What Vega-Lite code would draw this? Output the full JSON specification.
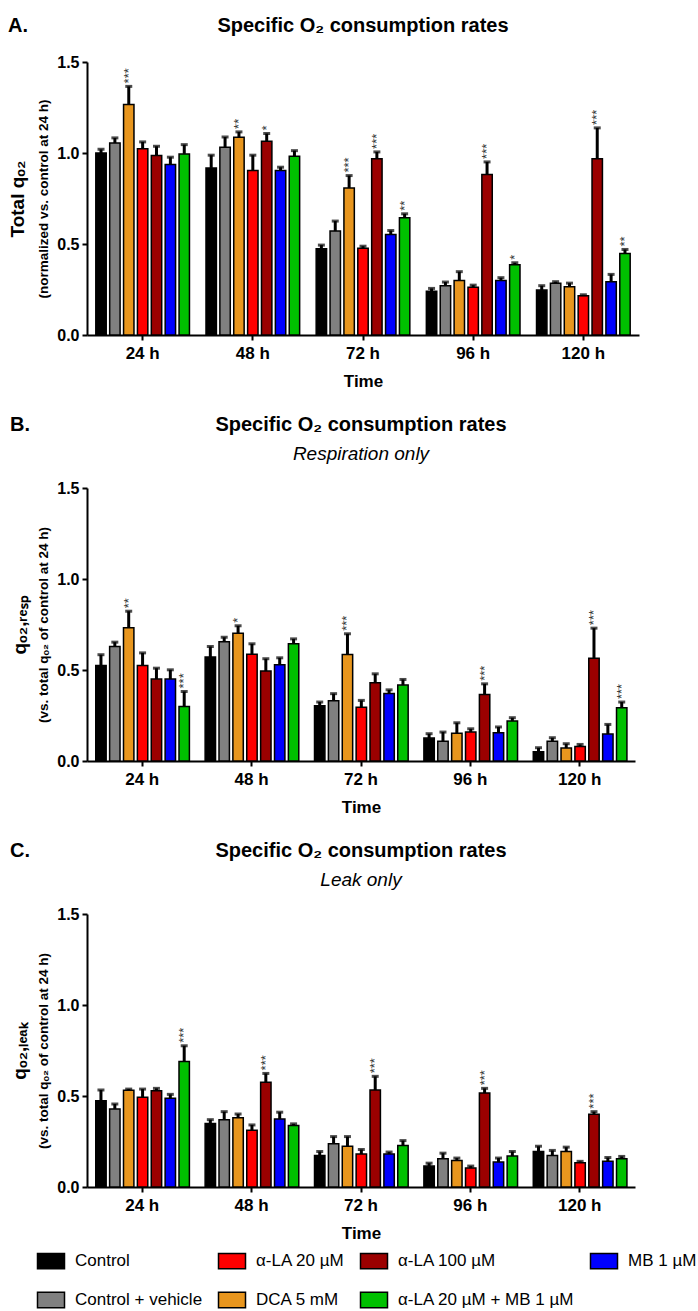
{
  "$schema": "https://vega.github.io/schema/vega-lite/v6.json",
  "padding": {"left": 8, "top": 16, "right": 5, "bottom": 5},
  "background": "white",
  "config": {
    "font": "Liberation Sans",
    "view": {"stroke": null},
    "axis": {"grid": false, "domainColor": "black", "domainWidth": 2, "tickColor": "black", "tickWidth": 2, "tickSize": 5, "labelColor": "black", "labelFont": "Liberation Sans", "labelFontWeight": "bold", "labelFontSize": 16, "titleColor": "black", "titleFont": "Liberation Sans", "titleFontWeight": "bold"},
    "title": {"font": "Liberation Sans", "fontWeight": "bold", "color": "black", "fontSize": 20, "subtitleFont": "Liberation Sans", "subtitleFontStyle": "italic", "subtitleFontSize": 19, "subtitleColor": "black", "subtitlePadding": 10},
    "concat": {"spacing": 26}
  },
  "data": {"values": [
    {"panel":"A","time":"24 h","treatment":"Control","value":1.0,"err":1.02,"sig":""},
    {"panel":"A","time":"24 h","treatment":"Control + vehicle","value":1.055,"err":1.083,"sig":""},
    {"panel":"A","time":"24 h","treatment":"DCA 5 mM","value":1.266,"err":1.366,"sig":"***"},
    {"panel":"A","time":"24 h","treatment":"α-LA 20 µM","value":1.024,"err":1.061,"sig":""},
    {"panel":"A","time":"24 h","treatment":"α-LA 100 µM","value":0.986,"err":1.037,"sig":""},
    {"panel":"A","time":"24 h","treatment":"MB 1 µM","value":0.937,"err":0.977,"sig":""},
    {"panel":"A","time":"24 h","treatment":"α-LA 20 µM + MB 1 µM","value":0.995,"err":1.046,"sig":""},
    {"panel":"A","time":"48 h","treatment":"Control","value":0.918,"err":0.988,"sig":""},
    {"panel":"A","time":"48 h","treatment":"Control + vehicle","value":1.032,"err":1.088,"sig":""},
    {"panel":"A","time":"48 h","treatment":"DCA 5 mM","value":1.087,"err":1.116,"sig":"**"},
    {"panel":"A","time":"48 h","treatment":"α-LA 20 µM","value":0.904,"err":0.988,"sig":""},
    {"panel":"A","time":"48 h","treatment":"α-LA 100 µM","value":1.065,"err":1.107,"sig":"*"},
    {"panel":"A","time":"48 h","treatment":"MB 1 µM","value":0.904,"err":0.922,"sig":""},
    {"panel":"A","time":"48 h","treatment":"α-LA 20 µM + MB 1 µM","value":0.982,"err":1.013,"sig":""},
    {"panel":"A","time":"72 h","treatment":"Control","value":0.474,"err":0.494,"sig":""},
    {"panel":"A","time":"72 h","treatment":"Control + vehicle","value":0.571,"err":0.626,"sig":""},
    {"panel":"A","time":"72 h","treatment":"DCA 5 mM","value":0.808,"err":0.876,"sig":"***"},
    {"panel":"A","time":"72 h","treatment":"α-LA 20 µM","value":0.477,"err":0.488,"sig":""},
    {"panel":"A","time":"72 h","treatment":"α-LA 100 µM","value":0.969,"err":1.006,"sig":"***"},
    {"panel":"A","time":"72 h","treatment":"MB 1 µM","value":0.552,"err":0.574,"sig":""},
    {"panel":"A","time":"72 h","treatment":"α-LA 20 µM + MB 1 µM","value":0.644,"err":0.666,"sig":"**"},
    {"panel":"A","time":"96 h","treatment":"Control","value":0.241,"err":0.256,"sig":""},
    {"panel":"A","time":"96 h","treatment":"Control + vehicle","value":0.271,"err":0.291,"sig":""},
    {"panel":"A","time":"96 h","treatment":"DCA 5 mM","value":0.3,"err":0.348,"sig":""},
    {"panel":"A","time":"96 h","treatment":"α-LA 20 µM","value":0.263,"err":0.274,"sig":""},
    {"panel":"A","time":"96 h","treatment":"α-LA 100 µM","value":0.882,"err":0.951,"sig":"***"},
    {"panel":"A","time":"96 h","treatment":"MB 1 µM","value":0.3,"err":0.315,"sig":""},
    {"panel":"A","time":"96 h","treatment":"α-LA 20 µM + MB 1 µM","value":0.386,"err":0.397,"sig":"*"},
    {"panel":"A","time":"120 h","treatment":"Control","value":0.247,"err":0.271,"sig":""},
    {"panel":"A","time":"120 h","treatment":"Control + vehicle","value":0.285,"err":0.293,"sig":""},
    {"panel":"A","time":"120 h","treatment":"DCA 5 mM","value":0.265,"err":0.285,"sig":""},
    {"panel":"A","time":"120 h","treatment":"α-LA 20 µM","value":0.216,"err":0.221,"sig":""},
    {"panel":"A","time":"120 h","treatment":"α-LA 100 µM","value":0.969,"err":1.138,"sig":"***"},
    {"panel":"A","time":"120 h","treatment":"MB 1 µM","value":0.293,"err":0.333,"sig":""},
    {"panel":"A","time":"120 h","treatment":"α-LA 20 µM + MB 1 µM","value":0.448,"err":0.47,"sig":"**"},
    {"panel":"B","time":"24 h","treatment":"Control","value":0.525,"err":0.584,"sig":""},
    {"panel":"B","time":"24 h","treatment":"Control + vehicle","value":0.629,"err":0.653,"sig":""},
    {"panel":"B","time":"24 h","treatment":"DCA 5 mM","value":0.732,"err":0.823,"sig":"**"},
    {"panel":"B","time":"24 h","treatment":"α-LA 20 µM","value":0.525,"err":0.594,"sig":""},
    {"panel":"B","time":"24 h","treatment":"α-LA 100 µM","value":0.45,"err":0.51,"sig":""},
    {"panel":"B","time":"24 h","treatment":"MB 1 µM","value":0.45,"err":0.501,"sig":""},
    {"panel":"B","time":"24 h","treatment":"α-LA 20 µM + MB 1 µM","value":0.3,"err":0.382,"sig":"***"},
    {"panel":"B","time":"48 h","treatment":"Control","value":0.571,"err":0.629,"sig":""},
    {"panel":"B","time":"48 h","treatment":"Control + vehicle","value":0.655,"err":0.68,"sig":""},
    {"panel":"B","time":"48 h","treatment":"DCA 5 mM","value":0.702,"err":0.743,"sig":"*"},
    {"panel":"B","time":"48 h","treatment":"α-LA 20 µM","value":0.587,"err":0.644,"sig":""},
    {"panel":"B","time":"48 h","treatment":"α-LA 100 µM","value":0.494,"err":0.562,"sig":""},
    {"panel":"B","time":"48 h","treatment":"MB 1 µM","value":0.529,"err":0.567,"sig":""},
    {"panel":"B","time":"48 h","treatment":"α-LA 20 µM + MB 1 µM","value":0.644,"err":0.671,"sig":""},
    {"panel":"B","time":"72 h","treatment":"Control","value":0.304,"err":0.324,"sig":""},
    {"panel":"B","time":"72 h","treatment":"Control + vehicle","value":0.331,"err":0.37,"sig":""},
    {"panel":"B","time":"72 h","treatment":"DCA 5 mM","value":0.585,"err":0.699,"sig":"***"},
    {"panel":"B","time":"72 h","treatment":"α-LA 20 µM","value":0.296,"err":0.333,"sig":""},
    {"panel":"B","time":"72 h","treatment":"α-LA 100 µM","value":0.43,"err":0.479,"sig":""},
    {"panel":"B","time":"72 h","treatment":"MB 1 µM","value":0.371,"err":0.391,"sig":""},
    {"panel":"B","time":"72 h","treatment":"α-LA 20 µM + MB 1 µM","value":0.417,"err":0.448,"sig":""},
    {"panel":"B","time":"96 h","treatment":"Control","value":0.126,"err":0.15,"sig":""},
    {"panel":"B","time":"96 h","treatment":"Control + vehicle","value":0.108,"err":0.159,"sig":""},
    {"panel":"B","time":"96 h","treatment":"DCA 5 mM","value":0.152,"err":0.21,"sig":""},
    {"panel":"B","time":"96 h","treatment":"α-LA 20 µM","value":0.159,"err":0.177,"sig":""},
    {"panel":"B","time":"96 h","treatment":"α-LA 100 µM","value":0.366,"err":0.424,"sig":"***"},
    {"panel":"B","time":"96 h","treatment":"MB 1 µM","value":0.155,"err":0.187,"sig":""},
    {"panel":"B","time":"96 h","treatment":"α-LA 20 µM + MB 1 µM","value":0.22,"err":0.238,"sig":""},
    {"panel":"B","time":"120 h","treatment":"Control","value":0.051,"err":0.073,"sig":""},
    {"panel":"B","time":"120 h","treatment":"Control + vehicle","value":0.108,"err":0.128,"sig":""},
    {"panel":"B","time":"120 h","treatment":"DCA 5 mM","value":0.071,"err":0.095,"sig":""},
    {"panel":"B","time":"120 h","treatment":"α-LA 20 µM","value":0.08,"err":0.091,"sig":""},
    {"panel":"B","time":"120 h","treatment":"α-LA 100 µM","value":0.565,"err":0.73,"sig":"***"},
    {"panel":"B","time":"120 h","treatment":"MB 1 µM","value":0.148,"err":0.201,"sig":""},
    {"panel":"B","time":"120 h","treatment":"α-LA 20 µM + MB 1 µM","value":0.293,"err":0.324,"sig":"***"},
    {"panel":"C","time":"24 h","treatment":"Control","value":0.474,"err":0.533,"sig":""},
    {"panel":"C","time":"24 h","treatment":"Control + vehicle","value":0.429,"err":0.456,"sig":""},
    {"panel":"C","time":"24 h","treatment":"DCA 5 mM","value":0.531,"err":0.538,"sig":""},
    {"panel":"C","time":"24 h","treatment":"α-LA 20 µM","value":0.493,"err":0.538,"sig":""},
    {"panel":"C","time":"24 h","treatment":"α-LA 100 µM","value":0.529,"err":0.542,"sig":""},
    {"panel":"C","time":"24 h","treatment":"MB 1 µM","value":0.487,"err":0.509,"sig":""},
    {"panel":"C","time":"24 h","treatment":"α-LA 20 µM + MB 1 µM","value":0.69,"err":0.776,"sig":"***"},
    {"panel":"C","time":"48 h","treatment":"Control","value":0.349,"err":0.37,"sig":""},
    {"panel":"C","time":"48 h","treatment":"Control + vehicle","value":0.37,"err":0.414,"sig":""},
    {"panel":"C","time":"48 h","treatment":"DCA 5 mM","value":0.381,"err":0.401,"sig":""},
    {"panel":"C","time":"48 h","treatment":"α-LA 20 µM","value":0.312,"err":0.341,"sig":""},
    {"panel":"C","time":"48 h","treatment":"α-LA 100 µM","value":0.575,"err":0.624,"sig":"***"},
    {"panel":"C","time":"48 h","treatment":"MB 1 µM","value":0.374,"err":0.411,"sig":""},
    {"panel":"C","time":"48 h","treatment":"α-LA 20 µM + MB 1 µM","value":0.338,"err":0.347,"sig":""},
    {"panel":"C","time":"72 h","treatment":"Control","value":0.173,"err":0.195,"sig":""},
    {"panel":"C","time":"72 h","treatment":"Control + vehicle","value":0.237,"err":0.277,"sig":""},
    {"panel":"C","time":"72 h","treatment":"DCA 5 mM","value":0.224,"err":0.277,"sig":""},
    {"panel":"C","time":"72 h","treatment":"α-LA 20 µM","value":0.181,"err":0.206,"sig":""},
    {"panel":"C","time":"72 h","treatment":"α-LA 100 µM","value":0.533,"err":0.608,"sig":"***"},
    {"panel":"C","time":"72 h","treatment":"MB 1 µM","value":0.181,"err":0.192,"sig":""},
    {"panel":"C","time":"72 h","treatment":"α-LA 20 µM + MB 1 µM","value":0.228,"err":0.255,"sig":""},
    {"panel":"C","time":"96 h","treatment":"Control","value":0.115,"err":0.131,"sig":""},
    {"panel":"C","time":"96 h","treatment":"Control + vehicle","value":0.155,"err":0.186,"sig":""},
    {"panel":"C","time":"96 h","treatment":"DCA 5 mM","value":0.146,"err":0.159,"sig":""},
    {"panel":"C","time":"96 h","treatment":"α-LA 20 µM","value":0.104,"err":0.115,"sig":""},
    {"panel":"C","time":"96 h","treatment":"α-LA 100 µM","value":0.516,"err":0.542,"sig":"***"},
    {"panel":"C","time":"96 h","treatment":"MB 1 µM","value":0.137,"err":0.159,"sig":""},
    {"panel":"C","time":"96 h","treatment":"α-LA 20 µM + MB 1 µM","value":0.17,"err":0.195,"sig":""},
    {"panel":"C","time":"120 h","treatment":"Control","value":0.195,"err":0.224,"sig":""},
    {"panel":"C","time":"120 h","treatment":"Control + vehicle","value":0.173,"err":0.201,"sig":""},
    {"panel":"C","time":"120 h","treatment":"DCA 5 mM","value":0.195,"err":0.219,"sig":""},
    {"panel":"C","time":"120 h","treatment":"α-LA 20 µM","value":0.133,"err":0.141,"sig":""},
    {"panel":"C","time":"120 h","treatment":"α-LA 100 µM","value":0.4,"err":0.414,"sig":"***"},
    {"panel":"C","time":"120 h","treatment":"MB 1 µM","value":0.142,"err":0.162,"sig":""},
    {"panel":"C","time":"120 h","treatment":"α-LA 20 µM + MB 1 µM","value":0.155,"err":0.168,"sig":""}
  ]},
  "vconcat": [
    {
      "title": {"text": "A.", "anchor": "start", "frame": "bounds", "fontSize": 20, "offset": -20},
      "vconcat": [{
        "title": {"text": "Specific O₂ consumption rates", "anchor": "middle", "frame": "group", "offset": 18},
        "width": 552, "height": 273,
        "transform": [{"filter": "datum.panel === 'A'"}],
        "encoding": {
          "x": {"field": "time", "type": "nominal", "sort": ["24 h", "48 h", "72 h", "96 h", "120 h"], "scale": {"paddingInner": 0.15, "paddingOuter": 0.08}, "axis": {"title": "Time", "labelAngle": 0, "labelFontSize": 17, "titleFontSize": 17, "labelPadding": 5, "titlePadding": 12}},
          "xOffset": {"field": "treatment", "type": "nominal", "sort": ["Control", "Control + vehicle", "DCA 5 mM", "α-LA 20 µM", "α-LA 100 µM", "MB 1 µM", "α-LA 20 µM + MB 1 µM"], "scale": {"paddingInner": 0.25, "paddingOuter": 0}}
        },
        "layer": [
          {"mark": {"type": "bar", "stroke": "black", "strokeWidth": 1.5},
           "encoding": {
             "y": {"field": "value", "type": "quantitative", "scale": {"domain": [0, 1.5], "nice": false}, "axis": {"title": "(normalized vs. control at 24 h)", "titleFontSize": 13.5, "values": [0, 0.5, 1, 1.5], "format": ".1f", "titlePadding": 6, "labelPadding": 3}},
             "color": {"field": "treatment", "type": "nominal", "scale": {"domain": ["Control", "α-LA 20 µM", "α-LA 100 µM", "MB 1 µM", "Control + vehicle", "DCA 5 mM", "α-LA 20 µM + MB 1 µM"], "range": ["#000000", "#ff0000", "#9b0000", "#0000ff", "#808080", "#e8961e", "#00c000"]},
               "legend": {"orient": "none", "legendX": -46, "legendY": 1189, "direction": "horizontal", "title": null, "columns": 4, "gridAlign": "each", "symbolType": "M-1.5,-0.85L1.5,-0.85L1.5,0.85L-1.5,0.85Z", "symbolSize": 324, "symbolStrokeColor": "black", "symbolStrokeWidth": 1.5, "symbolOpacity": 1, "labelFontSize": 17, "labelFont": "Liberation Sans", "labelColor": "black", "labelLimit": 300, "labelOffset": 14, "columnPadding": 12, "rowPadding": 17, "padding": 0}}
           }},
          {"mark": {"type": "rule", "color": "black", "strokeWidth": 3},
           "encoding": {
             "y": {"field": "value", "type": "quantitative", "scale": {"domain": [0, 1.5], "nice": false}, "axis": {"orient": "left", "title": "Total qₒ₂", "titleFontSize": 19, "labels": false, "ticks": false, "domain": false, "titlePadding": 60}},
             "y2": {"field": "err"}
           }},
          {"mark": {"type": "tick", "color": "black", "thickness": 3, "size": 7},
           "encoding": {"y": {"field": "err", "type": "quantitative", "scale": {"domain": [0, 1.5], "nice": false}, "axis": null}}},
          {"mark": {"type": "text", "angle": 270, "align": "left", "baseline": "middle", "dx": 3, "fontSize": 13, "color": "#333333"},
           "encoding": {"y": {"field": "err", "type": "quantitative", "scale": {"domain": [0, 1.5], "nice": false}, "axis": null}, "text": {"field": "sig"}}}
        ],
        "resolve": {"axis": {"y": "independent"}}
      }]
    },
    {
      "title": {"text": "B.", "anchor": "start", "frame": "bounds", "fontSize": 20, "offset": -20},
      "vconcat": [{
        "title": {"text": "Specific O₂ consumption rates", "subtitle": "Respiration only", "anchor": "middle", "frame": "group", "offset": 16},
        "width": 548, "height": 273,
        "transform": [{"filter": "datum.panel === 'B'"}],
        "encoding": {
          "x": {"field": "time", "type": "nominal", "sort": ["24 h", "48 h", "72 h", "96 h", "120 h"], "scale": {"paddingInner": 0.15, "paddingOuter": 0.08}, "axis": {"title": "Time", "labelAngle": 0, "labelFontSize": 17, "titleFontSize": 17, "labelPadding": 5, "titlePadding": 12}},
          "xOffset": {"field": "treatment", "type": "nominal", "sort": ["Control", "Control + vehicle", "DCA 5 mM", "α-LA 20 µM", "α-LA 100 µM", "MB 1 µM", "α-LA 20 µM + MB 1 µM"], "scale": {"paddingInner": 0.25, "paddingOuter": 0}}
        },
        "layer": [
          {"mark": {"type": "bar", "stroke": "black", "strokeWidth": 1.5},
           "encoding": {
             "y": {"field": "value", "type": "quantitative", "scale": {"domain": [0, 1.5], "nice": false}, "axis": {"title": "(vs. total qₒ₂ of control at 24 h)", "titleFontSize": 13.5, "values": [0, 0.5, 1, 1.5], "format": ".1f", "titlePadding": 6, "labelPadding": 3}},
             "color": {"field": "treatment", "type": "nominal"}
           }},
          {"mark": {"type": "rule", "color": "black", "strokeWidth": 3},
           "encoding": {
             "y": {"field": "value", "type": "quantitative", "scale": {"domain": [0, 1.5], "nice": false}, "axis": {"orient": "left", "title": "qₒ₂,ᵣₑₛₚ", "titleFontSize": 19, "labels": false, "ticks": false, "domain": false, "titlePadding": 58}},
             "y2": {"field": "err"}
           }},
          {"mark": {"type": "tick", "color": "black", "thickness": 3, "size": 7},
           "encoding": {"y": {"field": "err", "type": "quantitative", "scale": {"domain": [0, 1.5], "nice": false}, "axis": null}}},
          {"mark": {"type": "text", "angle": 270, "align": "left", "baseline": "middle", "dx": 3, "fontSize": 13, "color": "#333333"},
           "encoding": {"y": {"field": "err", "type": "quantitative", "scale": {"domain": [0, 1.5], "nice": false}, "axis": null}, "text": {"field": "sig"}}}
        ],
        "resolve": {"axis": {"y": "independent"}}
      }]
    },
    {
      "title": {"text": "C.", "anchor": "start", "frame": "bounds", "fontSize": 20, "offset": -20},
      "vconcat": [{
        "title": {"text": "Specific O₂ consumption rates", "subtitle": "Leak only", "anchor": "middle", "frame": "group", "offset": 16},
        "width": 548, "height": 273,
        "transform": [{"filter": "datum.panel === 'C'"}],
        "encoding": {
          "x": {"field": "time", "type": "nominal", "sort": ["24 h", "48 h", "72 h", "96 h", "120 h"], "scale": {"paddingInner": 0.15, "paddingOuter": 0.08}, "axis": {"title": "Time", "labelAngle": 0, "labelFontSize": 17, "titleFontSize": 17, "labelPadding": 5, "titlePadding": 12}},
          "xOffset": {"field": "treatment", "type": "nominal", "sort": ["Control", "Control + vehicle", "DCA 5 mM", "α-LA 20 µM", "α-LA 100 µM", "MB 1 µM", "α-LA 20 µM + MB 1 µM"], "scale": {"paddingInner": 0.25, "paddingOuter": 0}}
        },
        "layer": [
          {"mark": {"type": "bar", "stroke": "black", "strokeWidth": 1.5},
           "encoding": {
             "y": {"field": "value", "type": "quantitative", "scale": {"domain": [0, 1.5], "nice": false}, "axis": {"title": "(vs. total qₒ₂ of control at 24 h)", "titleFontSize": 13.5, "values": [0, 0.5, 1, 1.5], "format": ".1f", "titlePadding": 6, "labelPadding": 3}},
             "color": {"field": "treatment", "type": "nominal"}
           }},
          {"mark": {"type": "rule", "color": "black", "strokeWidth": 3},
           "encoding": {
             "y": {"field": "value", "type": "quantitative", "scale": {"domain": [0, 1.5], "nice": false}, "axis": {"orient": "left", "title": "qₒ₂,ₗₑₐₖ", "titleFontSize": 19, "labels": false, "ticks": false, "domain": false, "titlePadding": 58}},
             "y2": {"field": "err"}
           }},
          {"mark": {"type": "tick", "color": "black", "thickness": 3, "size": 7},
           "encoding": {"y": {"field": "err", "type": "quantitative", "scale": {"domain": [0, 1.5], "nice": false}, "axis": null}}},
          {"mark": {"type": "text", "angle": 270, "align": "left", "baseline": "middle", "dx": 3, "fontSize": 13, "color": "#333333"},
           "encoding": {"y": {"field": "err", "type": "quantitative", "scale": {"domain": [0, 1.5], "nice": false}, "axis": null}, "text": {"field": "sig"}}}
        ],
        "resolve": {"axis": {"y": "independent"}}
      }]
    }
  ]
}
